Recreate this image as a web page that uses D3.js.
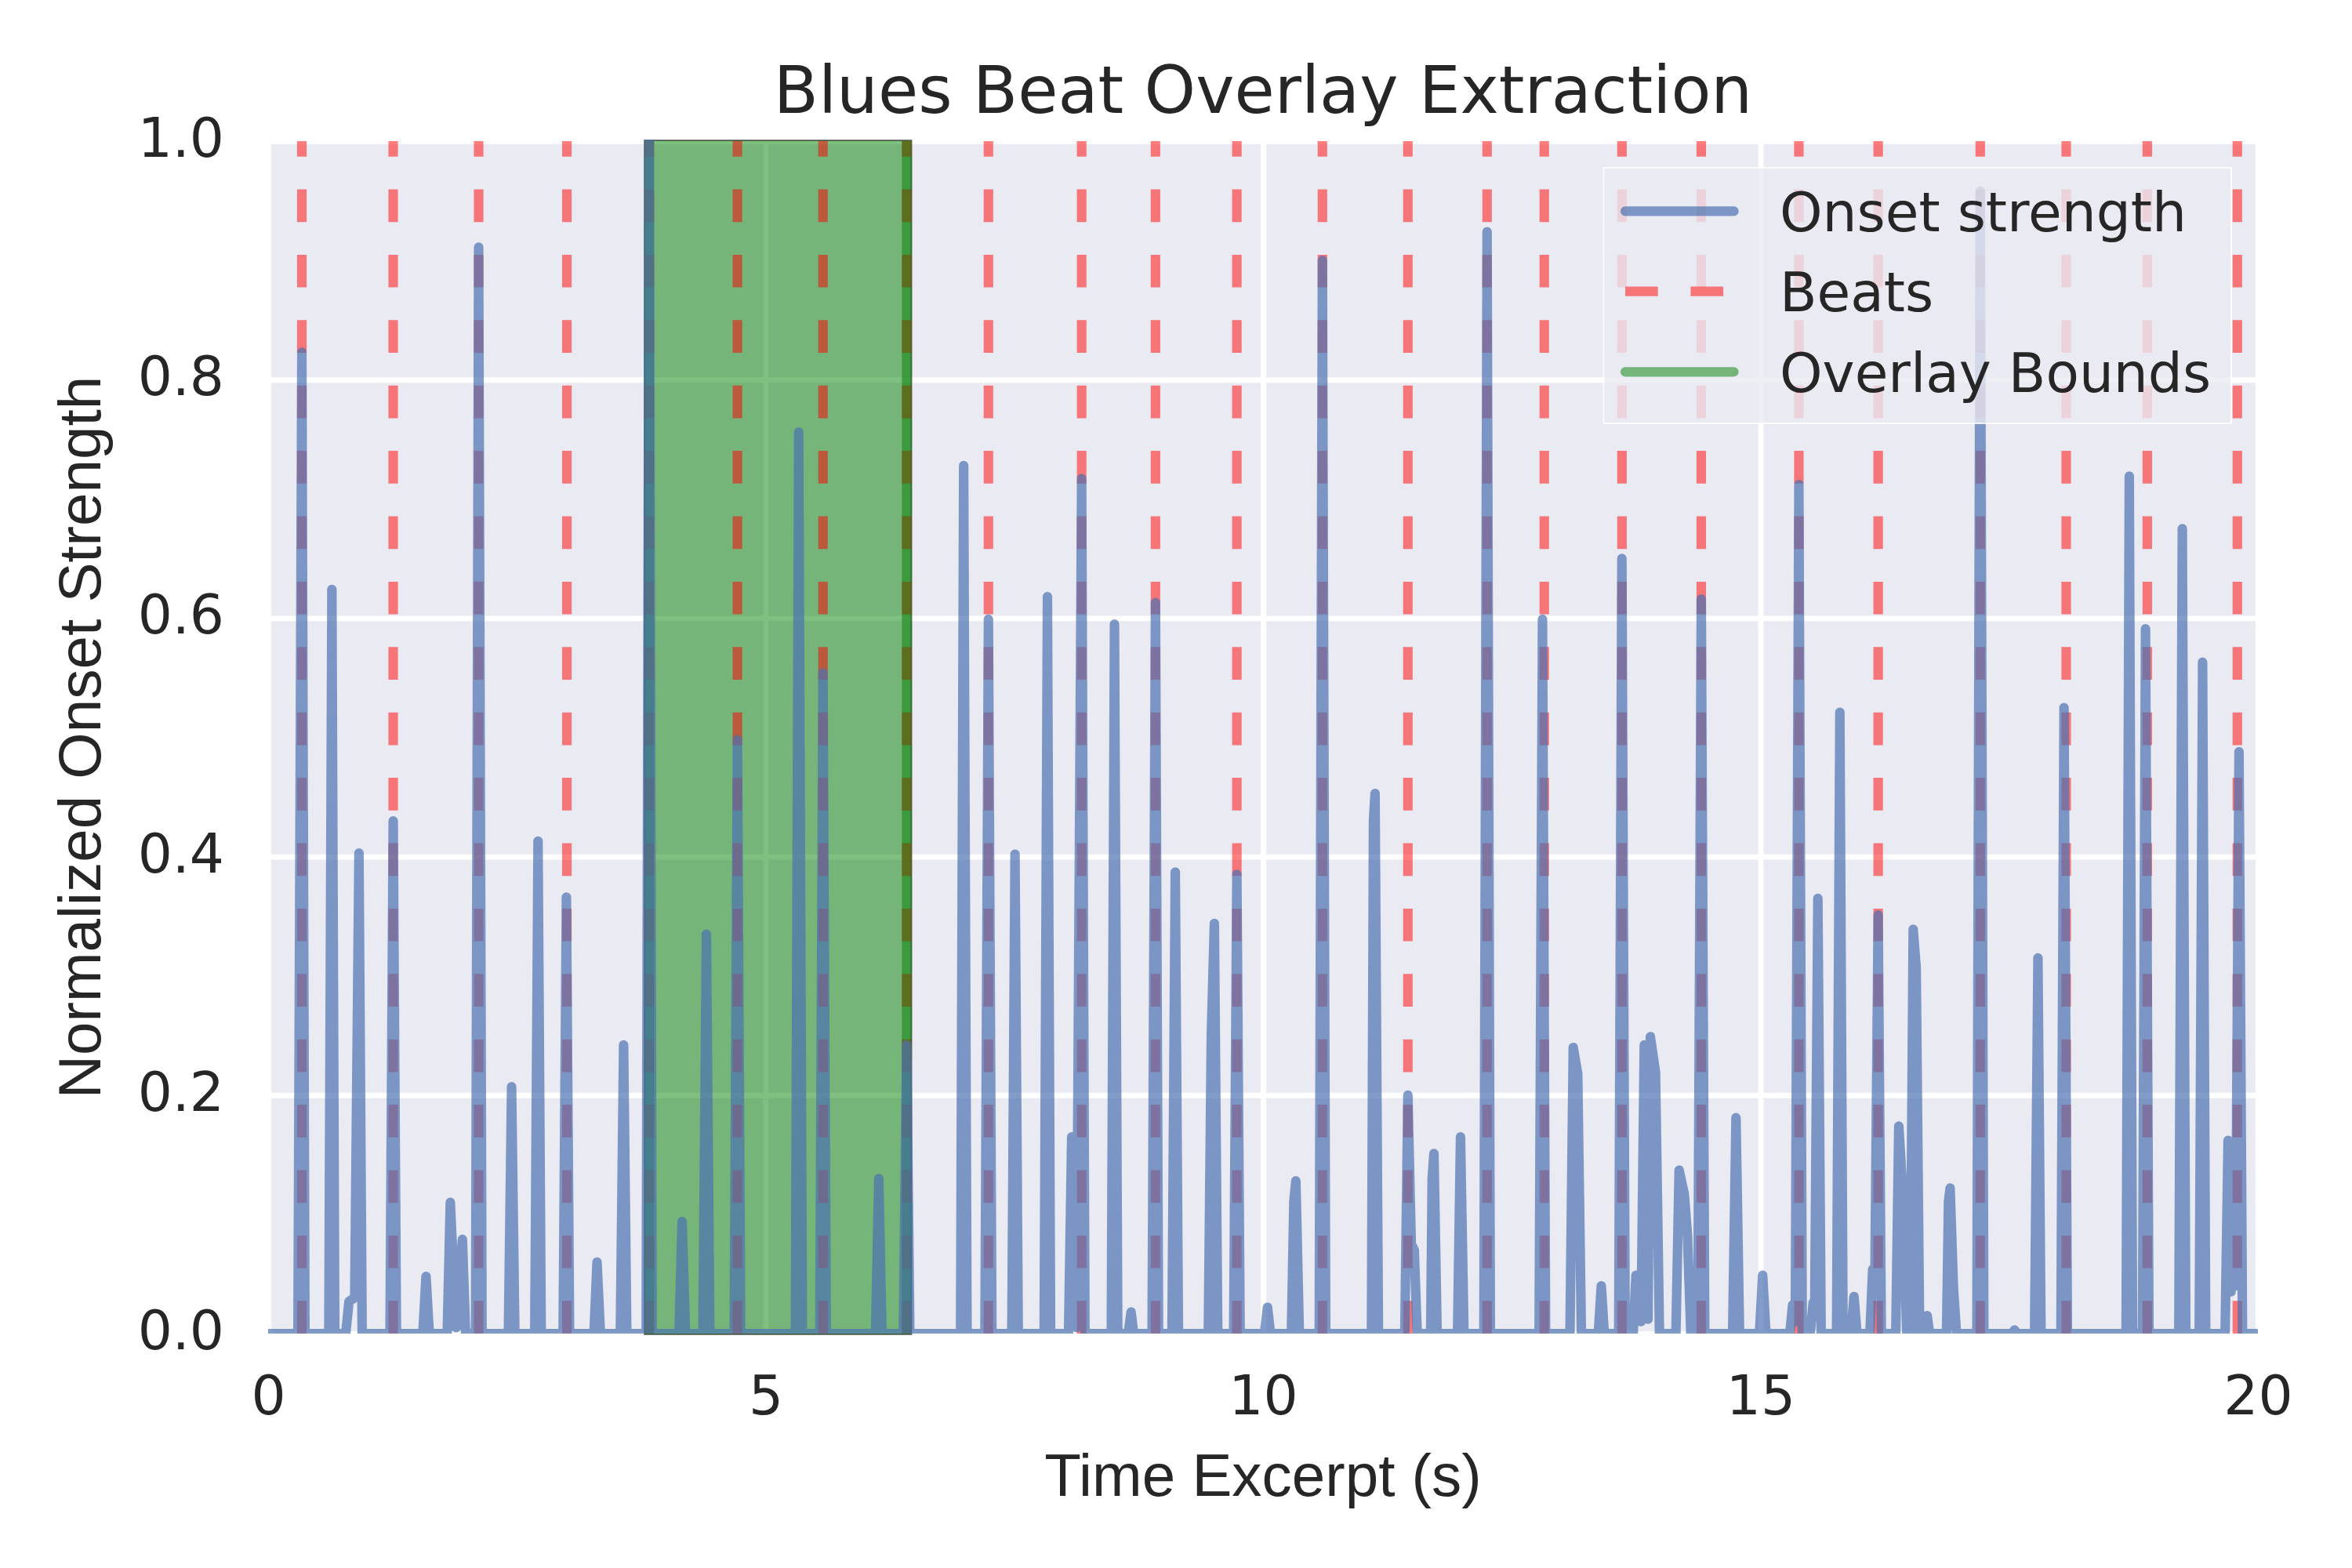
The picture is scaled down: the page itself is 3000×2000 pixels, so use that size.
<!DOCTYPE html>
<html>
<head>
<meta charset="utf-8">
<script src="https://cdn.jsdelivr.net/npm/d3@7"></script>
<style>
  html, body { margin: 0; padding: 0; background: #ffffff; }
  svg { display: block; }
</style>
</head>
<body>
<svg id="chart" width="3000" height="2000"></svg>
<script>
// ---------------- DATA ----------------
const chartTitle = "Blues Beat Overlay Extraction";
const xLabel = "Time Excerpt (s)";
const yLabel = "Normalized Onset Strength";
const legendLabels = ["Onset strength", "Beats", "Overlay Bounds"];

const xTickValues = [0, 5, 10, 15, 20];
const yTickValues = [0.0, 0.2, 0.4, 0.6, 0.8, 1.0];

// beat times (s)
const beatTimes = [0.339, 1.257, 2.116, 3.003, 3.831, 4.717, 5.577, 6.418,
  7.240, 8.177, 8.919, 9.737, 10.597, 11.456, 12.252, 12.827, 13.608, 14.405,
  15.386, 16.183, 17.209, 18.073, 18.888, 19.793];

// overlay bounds (s)
const overlayBounds = [3.831, 6.418];

// onset strength envelope: [time (s), normalized strength]
const onsetSeries = [
  [0, 0], [0.30, 0], [0.339, 0.823], [0.37, 0],
  [0.61, 0], [0.641, 0.624], [0.67, 0],
  [0.78, 0], [0.813, 0.027], [0.87, 0.03], [0.913, 0.403], [0.945, 0],
  [1.225, 0], [1.257, 0.430], [1.29, 0],
  [1.555, 0], [1.587, 0.048], [1.62, 0],
  [1.80, 0], [1.831, 0.110], [1.89, 0.005], [1.953, 0.079], [1.985, 0],
  [2.085, 0], [2.116, 0.911], [2.15, 0],
  [2.415, 0], [2.447, 0.207], [2.48, 0],
  [2.68, 0], [2.713, 0.413], [2.745, 0],
  [2.965, 0], [2.998, 0.366], [3.03, 0],
  [3.275, 0], [3.306, 0.060], [3.34, 0],
  [3.54, 0], [3.573, 0.242], [3.605, 0],
  [3.80, 0], [3.830, 1.0], [3.86, 0],
  [4.13, 0], [4.161, 0.094], [4.195, 0],
  [4.37, 0], [4.405, 0.335], [4.44, 0],
  [4.685, 0], [4.717, 0.498], [4.75, 0],
  [5.30, 0], [5.333, 0.756], [5.37, 0],
  [5.545, 0], [5.577, 0.554], [5.61, 0],
  [6.105, 0], [6.138, 0.130], [6.17, 0],
  [6.385, 0], [6.418, 0.242], [6.45, 0],
  [6.96, 0], [6.991, 0.728], [7.025, 0],
  [7.205, 0], [7.240, 0.599], [7.275, 0],
  [7.475, 0], [7.507, 0.402], [7.54, 0],
  [7.80, 0], [7.833, 0.618], [7.865, 0],
  [8.045, 0], [8.077, 0.165], [8.125, 0.005], [8.177, 0.717], [8.21, 0],
  [8.475, 0], [8.507, 0.595], [8.54, 0],
  [8.645, 0], [8.674, 0.018], [8.70, 0],
  [8.885, 0], [8.919, 0.613], [8.95, 0],
  [9.085, 0], [9.118, 0.387], [9.15, 0],
  [9.45, 0], [9.48, 0.25], [9.511, 0.344], [9.545, 0],
  [9.705, 0], [9.737, 0.385], [9.77, 0],
  [10.015, 0], [10.045, 0.022], [10.075, 0],
  [10.285, 0], [10.31, 0.111], [10.33, 0.128], [10.365, 0],
  [10.565, 0], [10.597, 0.900], [10.63, 0],
  [11.09, 0], [11.11, 0.43], [11.126, 0.453], [11.16, 0],
  [11.425, 0], [11.456, 0.200], [11.49, 0.075], [11.52, 0.07], [11.55, 0],
  [11.685, 0], [11.70, 0.13], [11.718, 0.151], [11.75, 0],
  [11.955, 0], [11.985, 0.165], [12.02, 0],
  [12.22, 0], [12.252, 0.924], [12.285, 0],
  [12.775, 0], [12.809, 0.599], [12.84, 0],
  [13.085, 0], [13.118, 0.240], [13.163, 0.218], [13.20, 0],
  [13.37, 0], [13.40, 0.040], [13.43, 0],
  [13.575, 0], [13.607, 0.650], [13.64, 0],
  [13.72, 0], [13.749, 0.049], [13.80, 0.01], [13.832, 0.242], [13.87, 0.012],
  [13.893, 0.249], [13.945, 0.219], [13.985, 0],
  [14.15, 0], [14.182, 0.137], [14.234, 0.117], [14.266, 0.083], [14.30, 0],
  [14.37, 0], [14.405, 0.616], [14.44, 0],
  [14.72, 0], [14.754, 0.181], [14.79, 0],
  [14.99, 0], [15.022, 0.049], [15.055, 0],
  [15.295, 0], [15.323, 0.024], [15.35, 0.01], [15.386, 0.712], [15.42, 0],
  [15.50, 0], [15.53, 0.026], [15.545, 0.02], [15.577, 0.365], [15.61, 0],
  [15.765, 0], [15.798, 0.521], [15.83, 0],
  [15.91, 0], [15.94, 0.031], [15.97, 0],
  [16.10, 0], [16.128, 0.054], [16.15, 0.05], [16.183, 0.351], [16.215, 0],
  [16.36, 0], [16.39, 0.174], [16.43, 0.12], [16.47, 0],
  [16.505, 0], [16.535, 0.339], [16.565, 0.307], [16.60, 0],
  [16.65, 0], [16.676, 0.015], [16.70, 0],
  [16.87, 0], [16.89, 0.111], [16.906, 0.122], [16.94, 0.038], [16.97, 0],
  [17.175, 0], [17.209, 0.958], [17.245, 0],
  [17.53, 0], [17.553, 0.003], [17.58, 0],
  [17.755, 0], [17.789, 0.315], [17.82, 0],
  [18.02, 0], [18.051, 0.525], [18.085, 0],
  [18.675, 0], [18.707, 0.719], [18.74, 0],
  [18.84, 0], [18.87, 0.591], [18.905, 0],
  [19.205, 0], [19.240, 0.675], [19.275, 0],
  [19.41, 0], [19.444, 0.563], [19.475, 0],
  [19.67, 0], [19.70, 0.162], [19.73, 0.035], [19.755, 0.16], [19.775, 0.04],
  [19.81, 0.488], [19.845, 0],
  [20, 0]
];

// ---------------- LAYOUT / STYLE ----------------
const PLOT = { left: 342, right: 2880, top: 180, bottom: 1701, bgTop: 182.5 };
const LW = 12.15;            // 1.75pt at 500 dpi
const GRID_W = 6.94;
const DASH = "41.7,41.7";
const TEXT = "#262626";
const FONT = "'DejaVu Sans', sans-serif";
const LABEL_FONT = "'Liberation Sans', Arial, sans-serif";

const svg = d3.select("#chart");

const x = d3.scaleLinear().domain([0, 20]).range([PLOT.left, PLOT.right]);
const y = d3.scaleLinear().domain([0, 1]).range([PLOT.bottom, PLOT.top]);

const defs = svg.append("defs");
defs.append("clipPath").attr("id", "bgClip").append("rect")
  .attr("x", PLOT.left).attr("y", PLOT.bgTop)
  .attr("width", PLOT.right - PLOT.left).attr("height", PLOT.bottom - PLOT.bgTop);
defs.append("clipPath").attr("id", "plotClip").append("rect")
  .attr("x", PLOT.left).attr("y", PLOT.top - 2)
  .attr("width", PLOT.right - PLOT.left).attr("height", PLOT.bottom - PLOT.top + 2);

// background
svg.append("rect")
  .attr("x", PLOT.left).attr("y", PLOT.bgTop)
  .attr("width", PLOT.right - PLOT.left).attr("height", PLOT.bottom - PLOT.bgTop)
  .attr("fill", "#EAEAF2");

// gridlines via axes
const gridG = svg.append("g").attr("clip-path", "url(#bgClip)");
gridG.append("g")
  .attr("transform", `translate(0,${PLOT.bottom})`)
  .call(d3.axisBottom(x).tickValues(xTickValues).tickSize(-(PLOT.bottom - PLOT.top)).tickFormat(""))
  .call(g => g.select(".domain").remove())
  .call(g => g.selectAll("line").attr("stroke", "#ffffff").attr("stroke-width", GRID_W));
gridG.append("g")
  .attr("transform", `translate(${PLOT.left},0)`)
  .call(d3.axisLeft(y).tickValues(yTickValues).tickSize(-(PLOT.right - PLOT.left)).tickFormat(""))
  .call(g => g.select(".domain").remove())
  .call(g => g.selectAll("line").attr("stroke", "#ffffff").attr("stroke-width", GRID_W));

// overlay span (below beats and onset line)
const half = LW / 2;
svg.append("rect")
  .attr("x", x(overlayBounds[0]) - half)
  .attr("y", PLOT.top - 1)
  .attr("width", x(overlayBounds[1]) - x(overlayBounds[0]) + LW)
  .attr("height", PLOT.bottom - PLOT.top + 2)
  .attr("fill", "#008000").attr("fill-opacity", 0.5)
  .attr("stroke", "#000000").attr("stroke-opacity", 0.5).attr("stroke-width", 2);

const plotG = svg.append("g").attr("clip-path", "url(#plotClip)");

// beats (drawn bottom -> top so dashes start at the bottom)
plotG.selectAll("line.beat").data(beatTimes).enter().append("line")
  .attr("class", "beat")
  .attr("x1", d => x(d)).attr("x2", d => x(d))
  .attr("y1", y(0)).attr("y2", y(1))
  .attr("stroke", "#ff0000").attr("stroke-opacity", 0.5)
  .attr("stroke-width", LW).attr("stroke-dasharray", DASH)
  .attr("stroke-linecap", "butt");

// overlay bound lines
plotG.selectAll("line.bound").data(overlayBounds).enter().append("line")
  .attr("class", "bound")
  .attr("x1", d => x(d)).attr("x2", d => x(d))
  .attr("y1", y(0)).attr("y2", y(1))
  .attr("stroke", "#008000").attr("stroke-opacity", 0.5)
  .attr("stroke-width", LW);

// onset strength line
const line = d3.line().x(d => x(d[0])).y(d => y(d[1]));
plotG.append("path")
  .datum(onsetSeries)
  .attr("d", line)
  .attr("fill", "none")
  .attr("stroke", "#4C72B0").attr("stroke-opacity", 0.7)
  .attr("stroke-width", LW)
  .attr("stroke-linejoin", "round").attr("stroke-linecap", "round");

// tick labels via axes
const xAxisG = svg.append("g")
  .attr("transform", `translate(0,${PLOT.bottom})`)
  .call(d3.axisBottom(x).tickValues(xTickValues).tickSize(0).tickFormat(d3.format("d")));
xAxisG.select(".domain").remove();
xAxisG.selectAll("text")
  .attr("y", 103).attr("dy", 0)
  .attr("fill", TEXT)
  .style("font-family", FONT).style("font-size", "69.4px");

const yAxisG = svg.append("g")
  .attr("transform", `translate(${PLOT.left},0)`)
  .call(d3.axisLeft(y).tickValues(yTickValues).tickSize(0).tickFormat(d3.format(".1f")));
yAxisG.select(".domain").remove();
yAxisG.selectAll("text")
  .attr("x", -56).attr("dy", 0).attr("y", 19.5)
  .attr("text-anchor", "end")
  .attr("fill", TEXT)
  .style("font-family", FONT).style("font-size", "69.4px");

// title
svg.append("text")
  .attr("x", (PLOT.left + PLOT.right) / 2).attr("y", 144)
  .attr("text-anchor", "middle")
  .attr("fill", TEXT)
  .style("font-family", FONT).style("font-size", "83.3px")
  .text(chartTitle);

// axis labels
svg.append("text")
  .attr("x", (PLOT.left + PLOT.right) / 2).attr("y", 1908)
  .attr("text-anchor", "middle")
  .attr("fill", TEXT)
  .style("font-family", LABEL_FONT).style("font-size", "76.4px")
  .text(xLabel);

svg.append("text")
  .attr("transform", `translate(128,${(PLOT.top + PLOT.bottom) / 2}) rotate(-90)`)
  .attr("text-anchor", "middle")
  .attr("fill", TEXT)
  .style("font-family", LABEL_FONT).style("font-size", "76.4px")
  .text(yLabel);

// legend
const LEG = { x: 2045.5, y: 214, w: 800.5, h: 326 };
const legG = svg.append("g");
legG.append("rect")
  .attr("x", LEG.x).attr("y", LEG.y).attr("width", LEG.w).attr("height", LEG.h)
  .attr("fill", "#EAEAF2").attr("fill-opacity", 0.8)
  .attr("stroke", "#ffffff").attr("stroke-opacity", 0.8).attr("stroke-width", 2);

const rowY = [269.4, 371.6, 474.3];
const handleX = [2073, 2211.6];
const handleStyles = [
  { color: "#4C72B0", opacity: 0.7, dash: null, cap: "round" },
  { color: "#ff0000", opacity: 0.5, dash: DASH, cap: "butt" },
  { color: "#008000", opacity: 0.5, dash: null, cap: "round" }
];
legendLabels.forEach((lab, i) => {
  const s = handleStyles[i];
  const ln = legG.append("line")
    .attr("x1", handleX[0]).attr("x2", handleX[1])
    .attr("y1", rowY[i]).attr("y2", rowY[i])
    .attr("stroke", s.color).attr("stroke-opacity", s.opacity)
    .attr("stroke-width", LW).attr("stroke-linecap", s.cap);
  if (s.dash) ln.attr("stroke-dasharray", s.dash);
  legG.append("text")
    .attr("x", 2270).attr("y", rowY[i] + 25.6)
    .attr("fill", TEXT)
    .style("font-family", FONT).style("font-size", "69.4px")
    .text(lab);
});
</script>
</body>
</html>
